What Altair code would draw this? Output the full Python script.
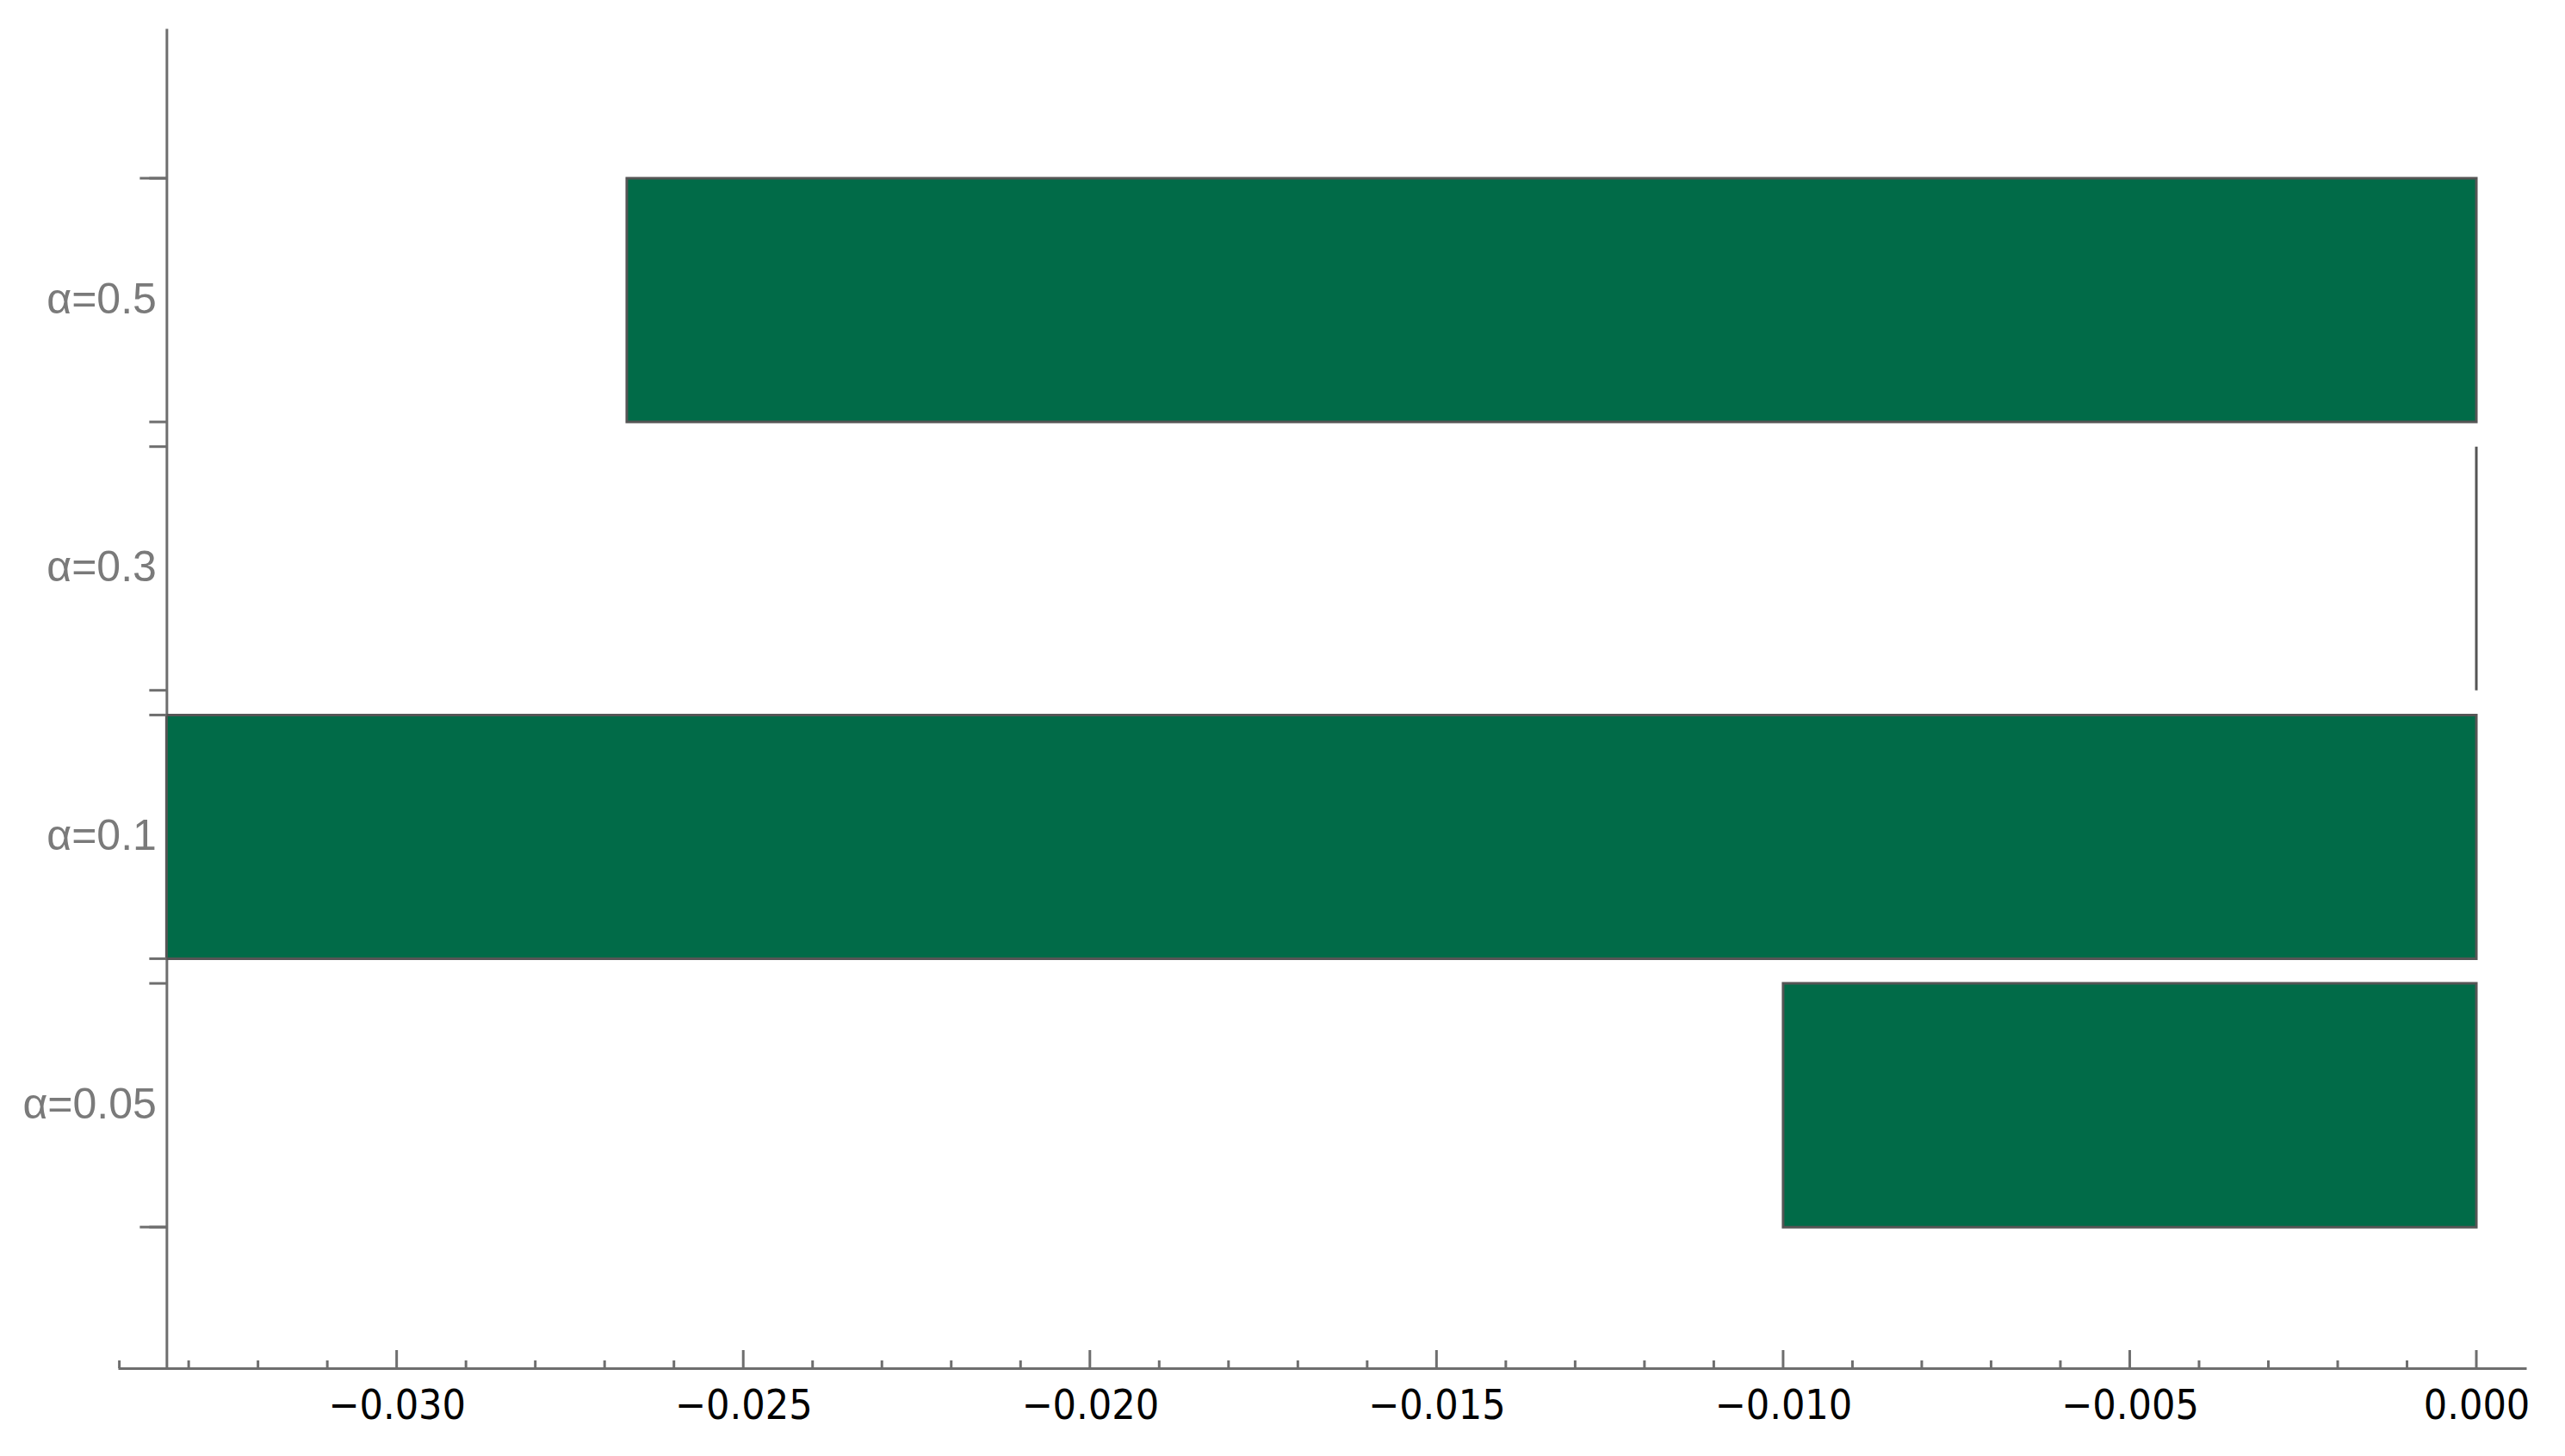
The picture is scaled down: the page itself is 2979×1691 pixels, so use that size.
import altair as alt
import pandas as pd

# ---- data ----
categories = ["α=0.5", "α=0.3", "α=0.1", "α=0.05"]
values = [-0.02668, 0.0, -0.03332, -0.0100]
major_ticks = [-0.030, -0.025, -0.020, -0.015, -0.010, -0.005, 0.000]
minor_ticks = [-0.034, -0.033, -0.032, -0.031, -0.029, -0.028, -0.027, -0.026,
               -0.024, -0.023, -0.022, -0.021, -0.019, -0.018, -0.017, -0.016,
               -0.014, -0.013, -0.012, -0.011, -0.009, -0.008, -0.007, -0.006,
               -0.004, -0.003, -0.002, -0.001]
x_domain = [-0.03402, 0.00072]

# ---- styling ----
W, H = 2797, 1556
AX = "#6e6e6e"
BAR = "#016B48"
EDGE = "#555555"
vmin = min(values)
yaxis_px = (vmin - x_domain[0]) / (x_domain[1] - x_domain[0]) * W

bars_df = pd.DataFrame({"cat": categories, "value": values})
major_df = pd.DataFrame({"v": major_ticks})
minor_df = pd.DataFrame({"v": minor_ticks})

xscale = alt.Scale(domain=x_domain, nice=False, zero=False)
yscale = alt.Scale(domain=categories, paddingInner=0.092, paddingOuter=0.542, align=0.515)

xaxis = alt.Axis(
    title=None, values=major_ticks, format=".3f", grid=False,
    ticks=False, tickSize=0, labelFlush=False, labelOverlap=False,
    domainColor=AX, domainWidth=3,
    labelFont="DejaVu Sans Condensed, Liberation Sans Narrow, Roboto Condensed, Liberation Sans",
    labelFontSize=48, labelColor="#000000", labelPadding=20,
)
yaxis = alt.Axis(
    title=None, grid=False, ticks=False, tickSize=0,
    domainColor=AX, domainWidth=3, offset=-yaxis_px,
    labelFont="Liberation Sans", labelFontSize=50, labelColor="#7a7a7a",
    labelPadding=12,
)

bars = alt.Chart(bars_df).mark_bar(fill=BAR, stroke=EDGE, strokeWidth=3).encode(
    x=alt.X("value:Q", scale=xscale, axis=xaxis),
    x2=alt.datum(0),
    y=alt.Y("cat:N", scale=yscale, sort=categories, axis=yaxis),
)


def yticks(df, band, length):
    return alt.Chart(df).mark_rule(color=AX, strokeWidth=3).encode(
        y=alt.Y("cat:N", bandPosition=band, scale=yscale, sort=categories, axis=yaxis),
        x=alt.value(yaxis_px - length),
        x2=alt.value(yaxis_px),
    )


short_top = yticks(bars_df, 0, 20)
short_bot = yticks(bars_df, 1, 20)
long_top = yticks(bars_df[bars_df["cat"] == categories[0]], 0, 31)
long_bot = yticks(bars_df[bars_df["cat"] == categories[-1]], 1, 31)

major = alt.Chart(major_df).mark_rule(color=AX, strokeWidth=3).encode(
    x=alt.X("v:Q", scale=xscale, axis=xaxis),
    y=alt.value(H - 21),
    y2=alt.value(H),
)
minor = alt.Chart(minor_df).mark_rule(color=AX, strokeWidth=3).encode(
    x=alt.X("v:Q", scale=xscale, axis=xaxis),
    y=alt.value(H - 9),
    y2=alt.value(H),
)

chart = alt.layer(bars, short_top, short_bot, long_top, long_bot, major, minor).properties(
    width=W, height=H,
    autosize=alt.AutoSizeParams(type="none"),
    padding={"left": 129, "top": 25, "right": 37, "bottom": 95},
    background="white",
).configure_view(stroke=None)

chart.save("out.html", embed_options={"renderer": "svg", "actions": False})
